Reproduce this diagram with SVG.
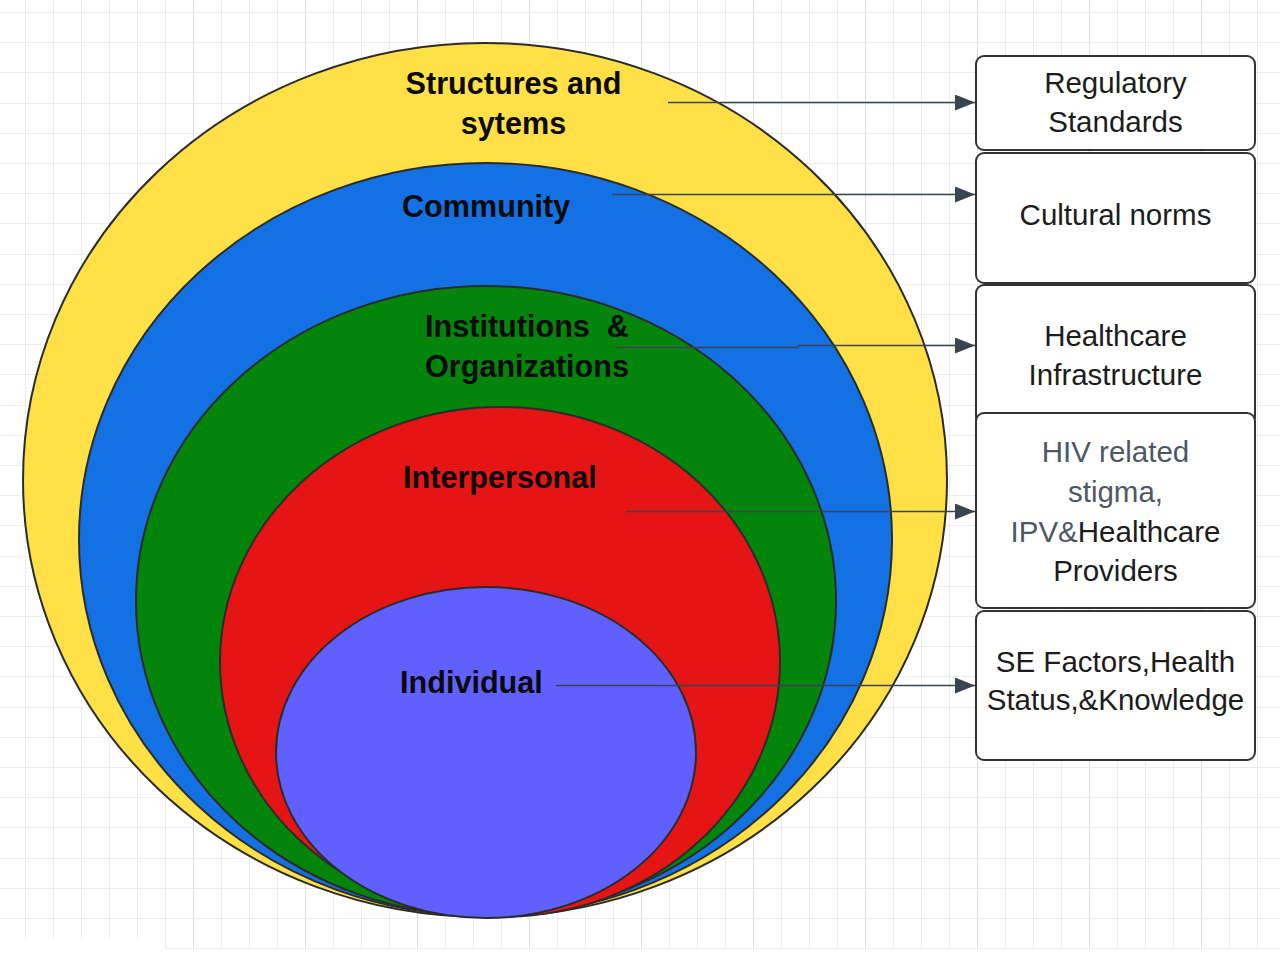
<svg xmlns="http://www.w3.org/2000/svg" width="1280" height="956" viewBox="0 0 1280 956">
  <defs>
    <style>
      .grid { stroke: #ececec; stroke-width: 1; fill: none; }
      .gridmajor { stroke: #dddddd; stroke-width: 1; fill: none; }
      .ring { stroke: #2b2b2b; stroke-width: 2; }
      .lbl { font-family: "Liberation Sans", Arial, sans-serif; font-weight: bold; font-size: 30.6px; fill: #0a0a0a; }
      .box { fill: #ffffff; stroke: #333333; stroke-width: 2; }
      .btxt { font-family: "Liberation Sans", Arial, sans-serif; font-size: 29.5px; fill: #1c1c1c; text-anchor: middle; }
      .gray { fill: #4f5763; }
      .conn { stroke: #3a4350; stroke-width: 1.6; fill: none; marker-end: url(#arrow); }
    </style>
    <marker id="arrow" viewBox="0 0 20 16" refX="20" refY="8" markerWidth="20" markerHeight="16" markerUnits="userSpaceOnUse" orient="auto">
      <path d="M0,0 L20,8 L0,16 Z" fill="#3a4350"/>
    </marker>
  </defs>

  <rect x="0" y="0" width="1280" height="956" fill="#ffffff"/>

  <g id="grid">
    <path class="grid" d="M25.5,0V938 M53.5,0V938 M81.5,0V938 M109.5,0V938 M137.5,0V938 M165.5,0V948 M221.5,0V948 M249.5,0V948 M277.5,0V948 M333.5,0V948 M361.5,0V948 M389.5,0V948 M445.5,0V948 M473.5,0V948 M501.5,0V948 M557.5,0V948 M585.5,0V948 M613.5,0V948 M669.5,0V948 M697.5,0V948 M725.5,0V948 M781.5,0V948 M809.5,0V948 M837.5,0V948 M893.5,0V948 M921.5,0V948 M949.5,0V948 M1005.5,0V948 M1033.5,0V948 M1061.5,0V948 M1117.5,0V948 M1145.5,0V948 M1173.5,0V948 M1229.5,0V948 M1257.5,0V948"/>
    <path class="gridmajor" d="M193.5,0V948 M305.5,0V948 M417.5,0V948 M529.5,0V948 M641.5,0V948 M753.5,0V948 M865.5,0V948 M977.5,0V948 M1089.5,0V948 M1201.5,0V948"/>
    <path class="grid" d="M0,12.5H1280 M0,42.5H1280 M0,72.5H1280 M0,103.5H1280 M0,133.5H1280 M0,163.5H1280 M0,193.5H1280 M0,223.5H1280 M0,254.5H1280 M0,284.5H1280 M0,314.5H1280 M0,344.5H1280 M0,374.5H1280 M0,405.5H1280 M0,435.5H1280 M0,465.5H1280 M0,495.5H1280 M0,525.5H1280 M0,556.5H1280 M0,586.5H1280 M0,616.5H1280 M0,646.5H1280 M0,676.5H1280 M0,707.5H1280 M0,737.5H1280 M0,767.5H1280 M0,797.5H1280 M0,827.5H1280 M0,858.5H1280 M0,888.5H1280 M0,918.5H1280 M165,948.5H1280"/>
  </g>

  <g id="ring-structures">
    <ellipse class="ring" cx="485" cy="480" rx="462" ry="437" fill="#ffe047"/>
  </g>
  <g id="ring-community">
    <ellipse class="ring" cx="485.5" cy="539.5" rx="406.5" ry="376.5" fill="#1471e4"/>
  </g>
  <g id="ring-institutions">
    <ellipse class="ring" cx="486" cy="601" rx="350" ry="315" fill="#03850b"/>
  </g>
  <g id="ring-interpersonal">
    <ellipse class="ring" cx="500" cy="662" rx="280" ry="255" fill="#e51515"/>
  </g>
  <g id="ring-individual">
    <ellipse class="ring" cx="486" cy="752.5" rx="210" ry="165.5" fill="#6060fe"/>
  </g>

  <g id="labels">
    <text class="lbl" x="513.5" y="94" text-anchor="middle">Structures and</text>
    <text class="lbl" x="513.5" y="134" text-anchor="middle">sytems</text>
    <text class="lbl" x="402" y="217">Community</text>
    <text class="lbl" x="425" y="337" xml:space="preserve">Institutions  &amp;</text>
    <text class="lbl" x="425" y="377">Organizations</text>
    <text class="lbl" x="403" y="488">Interpersonal</text>
    <text class="lbl" x="400" y="693">Individual</text>
  </g>

  <g id="connectors">
    <path class="conn" d="M668,102.5 H975"/>
    <path class="conn" d="M612,194.5 H975"/>
    <path class="conn" d="M617,347.5 H797 L799,345.5 H975"/>
    <path class="conn" d="M626,511.5 H975"/>
    <path class="conn" d="M556,685.5 H975"/>
  </g>

  <g id="box-regulatory">
    <rect class="box" x="976" y="56" width="279" height="94" rx="8"/>
    <text class="btxt" x="1115.5" y="93">Regulatory</text>
    <text class="btxt" x="1115.5" y="132">Standards</text>
  </g>
  <g id="box-cultural">
    <rect class="box" x="976" y="153" width="279" height="130" rx="8"/>
    <text class="btxt" x="1115.5" y="225">Cultural norms</text>
  </g>
  <g id="box-healthcare-infra">
    <rect class="box" x="976" y="285" width="279" height="140" rx="8"/>
    <text class="btxt" x="1115.5" y="346">Healthcare</text>
    <text class="btxt" x="1115.5" y="385">Infrastructure</text>
  </g>
  <g id="box-hiv">
    <rect class="box" x="976" y="413" width="279" height="195" rx="8"/>
    <text class="btxt gray" x="1115.5" y="462">HIV related</text>
    <text class="btxt gray" x="1115.5" y="502">stigma,</text>
    <text class="btxt" x="1115.5" y="542"><tspan class="gray">IPV&amp;</tspan>Healthcare</text>
    <text class="btxt" x="1115.5" y="581">Providers</text>
  </g>
  <g id="box-se">
    <rect class="box" x="976" y="611" width="279" height="149" rx="8"/>
    <text class="btxt" x="1115.5" y="672">SE Factors,Health</text>
    <text class="btxt" x="1115.5" y="710">Status,&amp;Knowledge</text>
  </g>
</svg>
